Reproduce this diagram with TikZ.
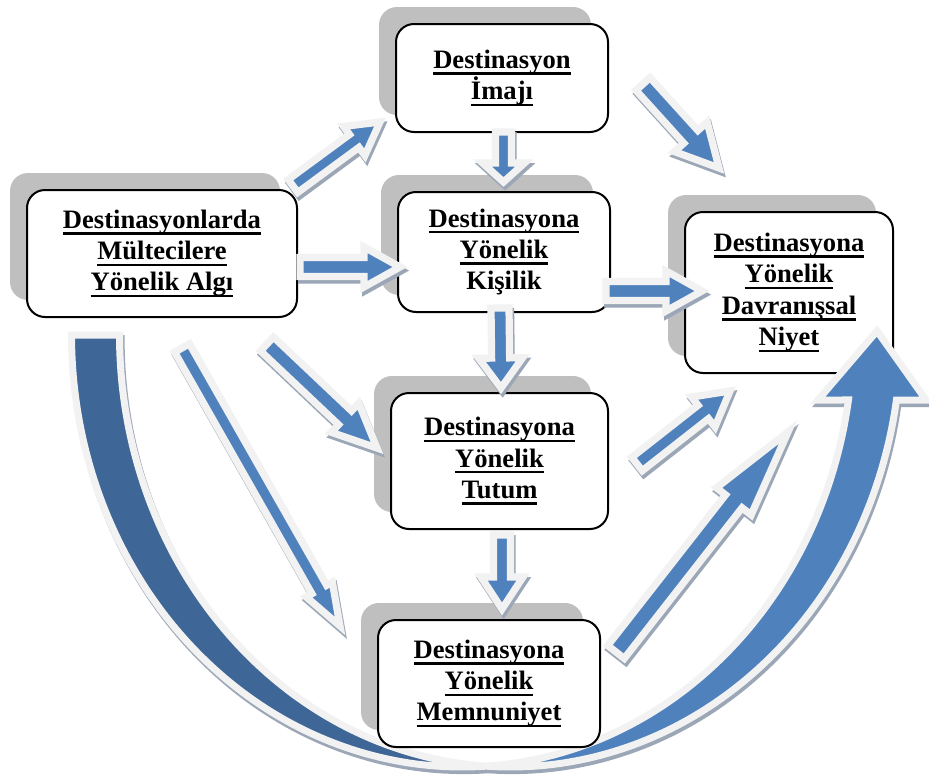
\documentclass[tikz,border=0pt]{standalone}
\usepackage{fontspec}
\setmainfont{Liberation Serif}
\usetikzlibrary{calc}
\definecolor{cblue}{HTML}{4F81BD}
\definecolor{cdark}{HTML}{3E6696}
\definecolor{outl}{HTML}{F2F2F2}
\definecolor{shad}{HTML}{9BA6B6}
\definecolor{bshad}{HTML}{BFBFBF}
\pgfdeclarehorizontalshading{bigcurve}{100bp}{color(0bp)=(cdark); color(45bp)=(cdark); color(53bp)=(cblue); color(100bp)=(cblue)}
\newcommand\myul[1]{\setbox0=\hbox{#1}\rlap{\rule[-3.2pt]{\wd0}{1.2pt}}\box0}
\newcommand\arrowshape[5]{($(#1)!#3!90:(#2)$) -- ($(#2)!#5!(#1)!#3!90:(#2)$) -- ($(#2)!#5!(#1)!#4!90:(#2)$) -- (#2) -- ($(#2)!#5!(#1)!#4!-90:(#2)$) -- ($(#2)!#5!(#1)!#3!-90:(#2)$) -- ($(#1)!#3!-90:(#2)$) -- cycle}
\newcommand\blockarrow[5]{%
  \path[arrshadow] \arrowshape{#1}{#2}{#3}{#4}{#5};
  \path[arrmain] \arrowshape{#1}{#2}{#3}{#4}{#5};}
\newcommand\curvepath{plot[domain=180:86.48, samples=90] ({462.2+390.7*cos(\x)}, {335+432*sin(\x)}) -- plot[domain=93.52:8.654, samples=90] ({510.2+390.7*cos(\x)}, {335+432*sin(\x)}) -- (926,400) -- (877,331) -- (818,400) -- plot[domain=8.654:86.48, samples=90] ({462.2+390.7*cos(\x)}, {335+432*sin(\x)}) -- plot[domain=93.52:180, samples=90] ({510.2+390.7*cos(\x)}, {335+432*sin(\x)}) -- cycle}
\tikzset{
  arrmain/.style={fill=cblue, draw=outl, line width=3.6pt, line join=miter, miter limit=10},
  arrshadow/.style={fill=shad, draw=shad, line width=3.6pt, line join=miter, miter limit=10, transform canvas={shift={(0.8pt,-1.8pt)}}},
  box/.style={draw=black, line width=1pt, fill=white, rounded corners=9pt, align=center, inner sep=0pt, font=\bfseries\fontsize{13.3}{15.7}\selectfont},
  boxsh/.style={fill=bshad, rounded corners=9pt, inner sep=0pt},
}
\begin{document}
\begin{tikzpicture}[x=0.5pt, y=-0.5pt]
\useasboundingbox[fill=white] (0,0) rectangle (929,776);
% box shadows
\node[boxsh, minimum width=135pt, minimum height=63.5pt] (algish) at (145,236.5) {};
\node[boxsh, minimum width=106pt, minimum height=54pt] (imajsh) at (485,61) {};
\node[boxsh, minimum width=106pt, minimum height=60pt] (kisish) at (487,235) {};
\node[boxsh, minimum width=104pt, minimum height=80.5pt] (niyetsh) at (772,275.5) {};
\node[boxsh, minimum width=108.5pt, minimum height=68pt] (tutumsh) at (482.5,444) {};
\node[boxsh, minimum width=111pt, minimum height=63.5pt] (memnsh) at (472,666.5) {};
% boxes
\node[box, minimum width=135pt, minimum height=63.5pt] (algi) at (162,253.5) {\myul{Destinasyonlarda}\\\myul{Mültecilere}\\\myul{Yönelik Algı}};
\node[box, minimum width=106pt, minimum height=54pt] (imaj) at (502,78) {\myul{Destinasyon}\\\myul{İmajı}};
\node[box, minimum width=106pt, minimum height=60pt] (kisi) at (504,252) {\myul{Destinasyona}\\\myul{Yönelik}\\Kişilik};
\node[box, minimum width=104pt, minimum height=80.5pt] (niyet) at (789,292.5) {\myul{Destinasyona}\\\myul{Yönelik}\\\myul{Davranışsal}\\\myul{Niyet}};
\node[box, minimum width=108.5pt, minimum height=68pt] (tutum) at (499.5,461) {\myul{Destinasyona}\\\myul{Yönelik}\\\myul{Tutum}};
% big curved arrow
\path[fill=shad, draw=shad, line width=3.5pt, line join=miter, transform canvas={shift={(0.8pt,-1.8pt)}}] \curvepath;
\path[shade, shading=bigcurve, draw=outl, line width=3.5pt, line join=miter] \curvepath;
\node[box, minimum width=111pt, minimum height=63.5pt] (memn) at (489,683.5) {\myul{Destinasyona}\\\myul{Yönelik}\\\myul{Memnuniyet}};
% arrow end points
\coordinate (a1t) at (293,186); \coordinate (a1p) at (380,122);
\coordinate (a2t) at (503.5,132); \coordinate (a2p) at (503.5,182);
\coordinate (a3t) at (300,267); \coordinate (a3p) at (400,267);
\coordinate (a4t) at (606,291); \coordinate (a4p) at (702,291);
\coordinate (a5t) at (643,84); \coordinate (a5p) at (719,168);
\coordinate (a6t) at (267,344); \coordinate (a6p) at (377,448);
\coordinate (a7t) at (182,348); \coordinate (a7p) at (340,626);
\coordinate (a8t) at (500,308); \coordinate (a8p) at (501,388);
\coordinate (a9t) at (502,535); \coordinate (a9p) at (502,609);
\coordinate (a10t) at (637,464); \coordinate (a10p) at (730,391);
\coordinate (a11t) at (616,652); \coordinate (a11p) at (788,432);
% block arrows
\blockarrow{a1t}{a1p}{4pt}{9pt}{16pt}
\blockarrow{a2t}{a2p}{4pt}{10.5pt}{9.5pt}
\blockarrow{a3t}{a3p}{4.75pt}{10pt}{18pt}
\blockarrow{a4t}{a4p}{4.75pt}{10pt}{18pt}
\blockarrow{a5t}{a5p}{4.75pt}{11pt}{21pt}
\blockarrow{a6t}{a6p}{4.75pt}{10pt}{22pt}
\blockarrow{a7t}{a7p}{4.25pt}{7.5pt}{21pt}
\blockarrow{a8t}{a8p}{4.5pt}{11pt}{15pt}
\blockarrow{a9t}{a9p}{4.25pt}{10.5pt}{16pt}
\blockarrow{a10t}{a10p}{4.25pt}{9.5pt}{17pt}
\blockarrow{a11t}{a11p}{5.25pt}{11pt}{44pt}
\end{tikzpicture}
\end{document}
